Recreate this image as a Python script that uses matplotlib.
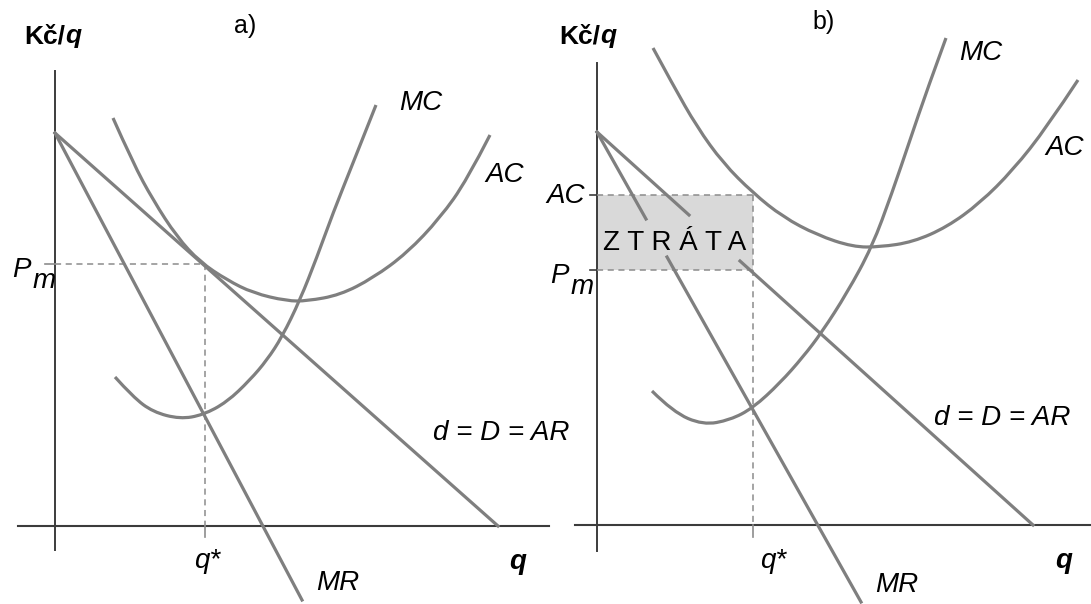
import matplotlib
matplotlib.use("Agg")
import matplotlib.pyplot as plt
from matplotlib.path import Path
from matplotlib.patches import PathPatch, Rectangle

plt.rcParams['font.family'] = ['Liberation Sans', 'DejaVu Sans']

# ---- panel a) : quantity / price values ----
demand_a_q = [0.0, 44.3]
demand_a_p = [39.3, 0.0]
mr_a_q = [0.0, 24.7]
mr_a_p = [39.3, -7.4]
ac_a_q = [5.8, 7.8, 9.8, 12.2, 14.5, 17.2, 19.8, 23.2, 25.2, 28.5, 31.8, 35.2, 38.5, 41.2, 43.5]
ac_a_p = [40.8, 36.3, 32.6, 28.9, 26.4, 24.6, 23.3, 22.5, 22.5, 23.1, 24.8, 27.3, 30.8, 34.6, 39.1]
mc_a_q = [6.0, 7.8, 9.8, 12.5, 14.8, 17.2, 19.5, 21.2, 22.7, 24.5, 26.2, 27.8, 29.8, 32.1]
mc_a_p = [14.9, 12.9, 11.4, 10.7, 11.1, 12.4, 14.6, 16.6, 18.9, 22.6, 26.9, 31.3, 36.3, 42.1]
q_star_a = 15.0
p_m_a = 26.2

# ---- panel b) ----
demand_b_q = [0.0, 9.2, 14.3, 43.6]
demand_b_p = [39.3, 31.0, 26.4, 0.0]
mr_b_q = [0.0, 4.9, 7.0, 26.4]
mr_b_p = [39.3, 30.6, 26.8, -7.7]
ac_b_q = [5.6, 7.6, 10.0, 12.6, 15.6, 18.6, 22.0, 25.6, 28.3, 31.6, 35.0, 38.3, 41.6, 45.0, 48.1]
ac_b_p = [47.7, 44.0, 39.8, 36.2, 33.2, 30.8, 29.0, 27.8, 27.8, 28.3, 29.8, 32.2, 35.5, 39.8, 44.5]
mc_b_q = [5.5, 7.6, 10.6, 13.3, 15.6, 18.3, 20.6, 22.5, 25.0, 27.5, 29.5, 31.3, 33.0, 34.9]
mc_b_p = [13.4, 11.3, 10.0, 10.5, 11.7, 14.2, 16.8, 19.3, 23.2, 27.8, 33.2, 38.5, 43.5, 48.7]
q_star_b = 15.6
p_m_b = 25.5
ac_level_b = 33.0

CURVE = '#7f7f7f'
AXIS = '#3c3c3c'
DASH = '#8c8c8c'
FS = 20


def smooth_path(xs, ys):
    pts = list(zip(xs, ys))
    verts = [pts[0]]
    codes = [Path.MOVETO]
    for i in range(1, len(pts) - 2):
        mid = ((pts[i][0] + pts[i + 1][0]) / 2, (pts[i][1] + pts[i + 1][1]) / 2)
        verts += [pts[i], mid]
        codes += [Path.CURVE3, Path.CURVE3]
    verts += [pts[-2], pts[-1]]
    codes += [Path.CURVE3, Path.CURVE3]
    return Path(verts, codes)


def draw_curve(ax, xs, ys):
    ax.add_patch(PathPatch(smooth_path(xs, ys), fill=False, edgecolor=CURVE,
                           lw=2.3, clip_on=False, zorder=3))


def draw_axes(ax, x_from, y_top, y_bottom, x_to):
    ax.plot([x_from, x_to], [0, 0], color=AXIS, lw=1.5, clip_on=False, zorder=2)
    ax.plot([0, 0], [y_bottom, y_top], color=AXIS, lw=1.4, clip_on=False, zorder=2)


def label_kc_q(ax, x, y):
    ax.text(x, y, 'Kč/', fontsize=19, fontweight='bold', ha='right', va='baseline')
    ax.text(x, y, 'q', fontsize=19, fontweight='bold', style='italic', ha='left', va='baseline')


def label_pm(ax, x, y):
    ax.text(x, y, 'P', fontsize=FS, style='italic', ha='left', va='baseline')
    ax.text(x + 2.1, y - 1.1, 'm', fontsize=FS, style='italic', ha='left', va='baseline')


fig = plt.figure(figsize=(10.91, 6.04), dpi=100)
ax_a = fig.add_axes([0, 0, 545 / 1091, 1])
ax_a.set_xlim(-5.5, 49.0)
ax_a.set_ylim(-7.8, 52.6)
ax_b = fig.add_axes([545 / 1091, 0, 546 / 1091, 1])
ax_b.set_xlim(-5.2, 49.4)
ax_b.set_ylim(-7.9, 52.5)
for ax in (ax_a, ax_b):
    ax.axis('off')

# ---------------- a) ----------------
draw_axes(ax_a, -3.7, 45.5, -2.4, 49.4)
ax_a.plot([-1.0, 0], [p_m_a, p_m_a], color=DASH, lw=1.2, zorder=2)
ax_a.plot([0, q_star_a], [p_m_a, p_m_a], color=DASH, lw=1.1, dashes=(4, 3), zorder=2)
ax_a.plot([q_star_a, q_star_a], [p_m_a, 0], color=DASH, lw=1.1, dashes=(4, 3), zorder=2)
ax_a.plot([q_star_a, q_star_a], [0, -1.1], color=DASH, lw=1.2, clip_on=False, zorder=2)
ax_a.plot(demand_a_q, demand_a_p, color=CURVE, lw=2.3, zorder=3)
ax_a.plot(mr_a_q, mr_a_p, color=CURVE, lw=2.3, clip_on=False, zorder=3)
draw_curve(ax_a, ac_a_q, ac_a_p)
draw_curve(ax_a, mc_a_q, mc_a_p)

ax_a.text(19.0, 49.3, 'a)', fontsize=18, ha='center', va='baseline')
label_kc_q(ax_a, 1.0, 48.3)
label_pm(ax_a, -4.3, 24.9)
ax_a.text(34.4, 41.6, 'MC', fontsize=FS, style='italic', va='baseline')
ax_a.text(43.0, 34.4, 'AC', fontsize=FS, style='italic', va='baseline')
ax_a.text(37.8, 8.6, 'd = D = AR', fontsize=FS, style='italic', va='baseline')
ax_a.text(26.1, -6.4, 'MR', fontsize=FS, style='italic', va='baseline')
ax_a.text(15.2, -4.2, 'q*', fontsize=FS, style='italic', ha='center', va='baseline')
ax_a.text(45.4, -4.3, 'q', fontsize=FS, style='italic', fontweight='bold', va='baseline')

# ---------------- b) ----------------
ax_b.add_patch(Rectangle((0, p_m_b), q_star_b, ac_level_b - p_m_b, facecolor='#d9d9d9',
                         edgecolor='none', zorder=1))
draw_axes(ax_b, -2.2, 46.2, -2.6, 49.4)
for lvl in (ac_level_b, p_m_b):
    ax_b.plot([-0.7, 0], [lvl, lvl], color=AXIS, lw=1.2, zorder=2)
    ax_b.plot([0, q_star_b], [lvl, lvl], color=DASH, lw=1.1, dashes=(4, 3), zorder=2)
ax_b.plot([q_star_b, q_star_b], [ac_level_b, 0], color=DASH, lw=1.1, dashes=(4, 3), zorder=2)
ax_b.plot([q_star_b, q_star_b], [0, -1.2], color=DASH, lw=1.2, clip_on=False, zorder=2)
ax_b.plot(demand_b_q[:2], demand_b_p[:2], color=CURVE, lw=2.3, zorder=3)
ax_b.plot(demand_b_q[2:], demand_b_p[2:], color=CURVE, lw=2.3, zorder=3)
ax_b.plot(mr_b_q[:2], mr_b_p[:2], color=CURVE, lw=2.3, zorder=3)
ax_b.plot(mr_b_q[2:], mr_b_p[2:], color=CURVE, lw=2.3, clip_on=False, zorder=3)
draw_curve(ax_b, ac_b_q, ac_b_p)
draw_curve(ax_b, mc_b_q, mc_b_p)

ax_b.text(q_star_b / 2, 27.5, 'Z T R Á T A', fontsize=FS, ha='center', va='baseline', zorder=4)
ax_b.text(22.7, 49.6, 'b)', fontsize=18, ha='center', va='baseline')
label_kc_q(ax_b, 0.3, 48.2)
ax_b.text(-1.2, 32.2, 'AC', fontsize=FS, style='italic', ha='right', va='baseline')
label_pm(ax_b, -4.7, 24.2)
ax_b.text(36.2, 46.5, 'MC', fontsize=FS, style='italic', va='baseline')
ax_b.text(44.8, 37.0, 'AC', fontsize=FS, style='italic', va='baseline')
ax_b.text(33.7, 10.0, 'd = D = AR', fontsize=FS, style='italic', va='baseline')
ax_b.text(27.8, -6.7, 'MR', fontsize=FS, style='italic', va='baseline')
ax_b.text(17.6, -4.3, 'q*', fontsize=FS, style='italic', ha='center', va='baseline')
ax_b.text(45.8, -4.3, 'q', fontsize=FS, style='italic', fontweight='bold', va='baseline')

fig.savefig('out.png', dpi=100)
